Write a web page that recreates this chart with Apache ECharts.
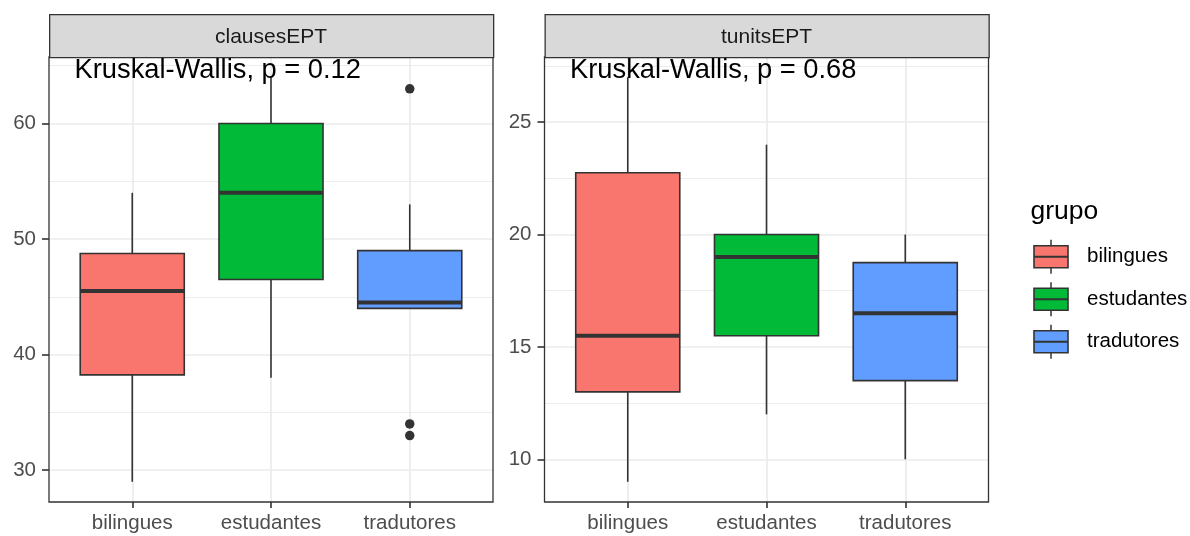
<!DOCTYPE html>
<html>
<head>
<meta charset="utf-8">
<script src="https://cdn.jsdelivr.net/npm/echarts@6/dist/echarts.min.js"></script>
<style>
  html, body { margin: 0; padding: 0; background: #ffffff; }
  #chart { width: 1190px; height: 536px; }
</style>
</head>
<body>
<div id="chart"></div>
<script>
// Groups and their fill colours
const groups = ['bilingues', 'estudantes', 'tradutores'];
const groupColors = ['#F8766D', '#00BA38', '#619CFF'];

// Facet titles and test annotations
const panels = ['clausesEPT', 'tunitsEPT'];
const testLabels = ['Kruskal-Wallis, p = 0.12', 'Kruskal-Wallis, p = 0.68'];

// Box summaries per group: [lower whisker, Q1, median, Q3, upper whisker]
const clausesStats = [
  [29, 38.25, 45.5, 48.75, 54],
  [38, 46.5, 54, 60, 64],
  [44, 44, 44.5, 49, 53]
];
const clausesOutliers = [[], [], [63, 34, 33]];

const tunitsStats = [
  [9, 13, 15.5, 22.75, 27],
  [12, 15.5, 19, 20, 24],
  [10, 13.5, 16.5, 18.75, 20]
];
const tunitsOutliers = [[], [], []];

// Tick values (major) and minor grid positions
const clausesTicks = [30, 40, 50, 60];
const clausesMinor = [35, 45, 55, 65];
const tunitsTicks = [10, 15, 20, 25];
const tunitsMinor = [12.5, 17.5, 22.5, 27.5];

const panelStats = [clausesStats, tunitsStats];
const panelOutliers = [clausesOutliers, tunitsOutliers];
const panelTicks = [clausesTicks, tunitsTicks];
const panelMinor = [clausesMinor, tunitsMinor];

const INK = '#333333';
const GRID_COL = '#EBEBEB';
const FONT = '"Liberation Sans", Arial, sans-serif';

const gridLeft = [49, 544.5];
const gridTop = 57;
const gridW = 444;
const gridH = 445;

// y range: data range padded by 5% on each side
function paddedRange(stats, outliers) {
  const vals = [];
  stats.forEach(s => vals.push(...s));
  outliers.forEach(o => vals.push(...o));
  const lo = Math.min(...vals), hi = Math.max(...vals);
  const pad = (hi - lo) * 0.05;
  return [lo - pad, hi + pad];
}

function renderBox(params, api) {
  const x = api.value(0);
  const lo = api.value(1), q1 = api.value(2), med = api.value(3), q3 = api.value(4), hi = api.value(5);
  const half = 0.375;
  const top = api.coord([x, hi]);
  const bottom = api.coord([x, lo]);
  const a = api.coord([x - half, q3]);
  const b = api.coord([x + half, q1]);
  const m = api.coord([x, med]);
  const fill = groupColors[params.dataIndex];
  return {
    type: 'group',
    children: [
      { type: 'line', shape: { x1: top[0], y1: top[1], x2: top[0], y2: a[1] }, style: { stroke: INK, lineWidth: 1.6 } },
      { type: 'line', shape: { x1: bottom[0], y1: b[1], x2: bottom[0], y2: bottom[1] }, style: { stroke: INK, lineWidth: 1.6 } },
      { type: 'rect', shape: { x: a[0], y: a[1], width: b[0] - a[0], height: b[1] - a[1] }, style: { fill: fill, stroke: INK, lineWidth: 1.6 } },
      { type: 'line', shape: { x1: a[0], y1: m[1], x2: b[0], y2: m[1] }, style: { stroke: INK, lineWidth: 4 } }
    ]
  };
}

const grids = [], xAxes = [], yAxes = [], series = [], graphics = [];

panels.forEach((name, i) => {
  grids.push({
    left: gridLeft[i], top: gridTop, width: gridW, height: gridH,
    show: true, borderColor: INK, borderWidth: 1.3, backgroundColor: 'transparent',
    outerBoundsMode: 'none', z: 3
  });

  xAxes.push({
    type: 'value', gridIndex: i, min: 0.4, max: 3.6,
    axisLine: { show: false },
    axisTick: { show: true, customValues: [1, 2, 3], length: 6, lineStyle: { color: INK, width: 1.6 } },
    axisLabel: {
      customValues: [1, 2, 3], formatter: v => groups[Math.round(v) - 1],
      color: '#4D4D4D', fontSize: 20.5, fontFamily: FONT, margin: 11
    },
    splitLine: { show: true, lineStyle: { color: GRID_COL, width: 1.7 } }
  });

  const range = paddedRange(panelStats[i], panelOutliers[i]);
  yAxes.push({
    type: 'value', gridIndex: i, min: range[0], max: range[1], position: 'left',
    axisLine: { show: false },
    axisTick: { show: true, customValues: panelTicks[i], length: 7, lineStyle: { color: INK, width: 1.6 } },
    axisLabel: { customValues: panelTicks[i], color: '#4D4D4D', fontSize: 20.5, fontFamily: FONT, margin: 13 },
    splitLine: { show: true, lineStyle: { color: GRID_COL, width: 1.7 } }
  });
  yAxes.push({
    type: 'value', gridIndex: i, min: range[0], max: range[1], position: 'left',
    axisLine: { show: false },
    axisTick: { show: false, customValues: panelMinor[i] },
    axisLabel: { show: false, customValues: panelMinor[i] },
    splitLine: { show: true, lineStyle: { color: GRID_COL, width: 0.9 } }
  });

  series.push({
    type: 'custom', name: name, xAxisIndex: i, yAxisIndex: 2 * i,
    renderItem: renderBox,
    encode: { x: 0, y: [1, 2, 3, 4, 5] },
    data: panelStats[i].map((s, k) => [k + 1].concat(s)),
    z: 2
  });

  const pts = [];
  panelOutliers[i].forEach((vals, k) => vals.forEach(v => pts.push([k + 1, v])));
  series.push({
    type: 'scatter', xAxisIndex: i, yAxisIndex: 2 * i,
    symbol: 'circle', symbolSize: 9.5,
    itemStyle: { color: INK, opacity: 1 },
    data: pts, z: 4, silent: true
  });

  // facet strip
  graphics.push({
    type: 'rect', left: gridLeft[i], top: 14,
    shape: { width: gridW, height: 43 },
    style: { fill: '#D9D9D9', stroke: INK, lineWidth: 1.3 }, z: 5
  });
  graphics.push({
    type: 'text', x: gridLeft[i] + gridW / 2, y: 37.5,
    style: { text: name, fill: '#1A1A1A', font: '21px ' + FONT, align: 'center', verticalAlign: 'middle' },
    z: 6
  });
  // test annotation
  graphics.push({
    type: 'text', x: gridLeft[i] + 25.5, y: 70.5,
    style: { text: testLabels[i], fill: '#000000', font: '27.3px ' + FONT, align: 'left', verticalAlign: 'middle' },
    z: 10
  });
});

// legend
graphics.push({
  type: 'text', x: 1030.5, y: 212,
  style: { text: 'grupo', fill: '#000000', font: '26.5px ' + FONT, align: 'left', verticalAlign: 'middle' },
  z: 6
});
groups.forEach((g, k) => {
  const cy = 256.7 + k * 42.5;
  const kx = 1034, kw = 34, kh = 22;
  graphics.push({ type: 'line', shape: { x1: kx + kw / 2, y1: cy - kh / 2 - 6, x2: kx + kw / 2, y2: cy + kh / 2 + 6 }, style: { stroke: INK, lineWidth: 1.5 }, z: 6 });
  graphics.push({ type: 'rect', shape: { x: kx, y: cy - kh / 2, width: kw, height: kh }, style: { fill: groupColors[k], stroke: INK, lineWidth: 1.6 }, z: 7 });
  graphics.push({ type: 'line', shape: { x1: kx, y1: cy, x2: kx + kw, y2: cy }, style: { stroke: INK, lineWidth: 2 }, z: 8 });
  graphics.push({
    type: 'text', x: 1087, y: cy,
    style: { text: g, fill: '#000000', font: '20.5px ' + FONT, align: 'left', verticalAlign: 'middle' },
    z: 8
  });
});

const chart = echarts.init(document.getElementById('chart'), null, { renderer: 'canvas' });
chart.setOption({
  backgroundColor: '#ffffff',
  animation: false,
  grid: grids,
  xAxis: xAxes,
  yAxis: yAxes,
  series: series,
  graphic: graphics
});
</script>
</body>
</html>
